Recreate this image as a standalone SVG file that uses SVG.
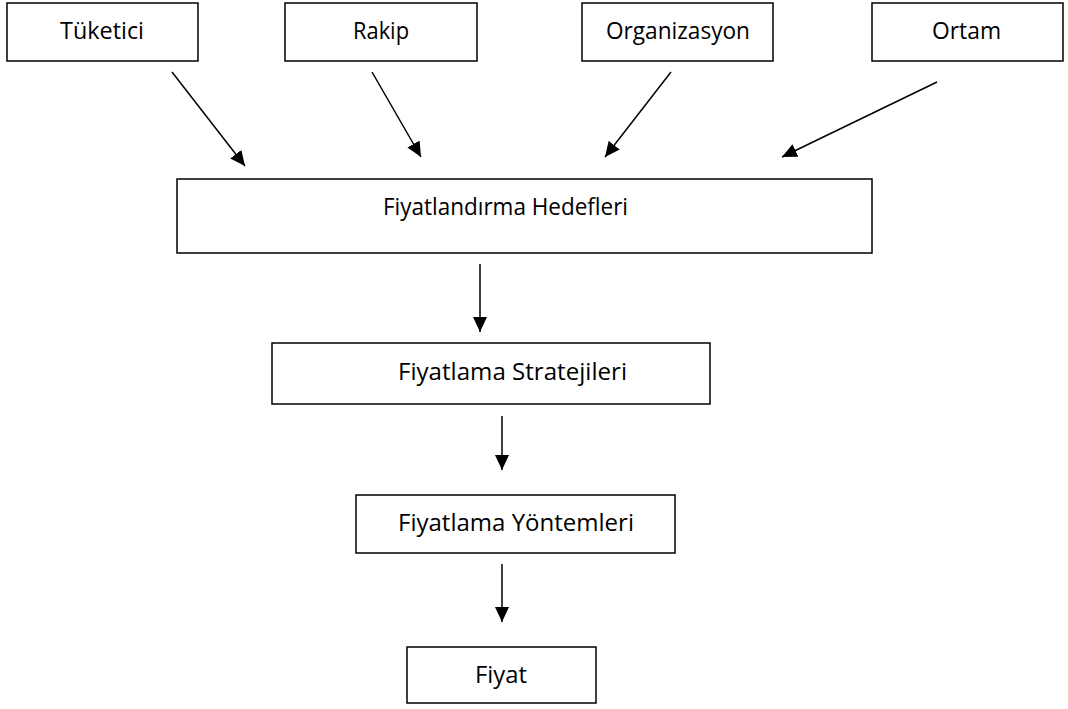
<svg xmlns="http://www.w3.org/2000/svg" width="1068" height="709" viewBox="0 0 1068 709">
<style>
.box{fill:#fff;stroke:#000;stroke-width:1.5}
.lbl{font-family:"Open Sans","Liberation Sans",sans-serif;font-size:23px;fill:#000}
.c{stroke:#000;stroke-width:1.5;fill:none;marker-end:url(#ah)}
</style>
<defs>
<marker id="ah" markerUnits="userSpaceOnUse" markerWidth="16" markerHeight="14" refX="15" refY="7" orient="auto" viewBox="0 0 16 14">
<path d="M0,0 L15,7 L0,14 Z" fill="#000"/>
</marker>
</defs>
<rect width="1068" height="709" fill="#fff"/>
<g id="tuketici"><rect class="box" x="7" y="3" width="191" height="58"/><text class="lbl" x="60" y="39" textLength="84" lengthAdjust="spacingAndGlyphs">Tüketici</text></g>
<g id="rakip"><rect class="box" x="285" y="3" width="192" height="58"/><text class="lbl" x="353" y="39" textLength="56" lengthAdjust="spacingAndGlyphs">Rakip</text></g>
<g id="organizasyon"><rect class="box" x="582" y="3" width="191" height="58"/><text class="lbl" x="606" y="39" textLength="144" lengthAdjust="spacingAndGlyphs">Organizasyon</text></g>
<g id="ortam"><rect class="box" x="872" y="3" width="191" height="58"/><text class="lbl" x="932" y="39" textLength="69" lengthAdjust="spacingAndGlyphs">Ortam</text></g>
<g id="hedefler"><rect class="box" x="177" y="179" width="695" height="74"/><text class="lbl" x="383" y="215" textLength="245" lengthAdjust="spacingAndGlyphs">Fiyatlandırma Hedefleri</text></g>
<g id="stratejiler"><rect class="box" x="272" y="343" width="438" height="61"/><text class="lbl" x="398" y="380" textLength="229" lengthAdjust="spacingAndGlyphs">Fiyatlama Stratejileri</text></g>
<g id="yontemler"><rect class="box" x="356" y="495" width="319" height="58"/><text class="lbl" x="398" y="531" textLength="236" lengthAdjust="spacingAndGlyphs">Fiyatlama Yöntemleri</text></g>
<g id="fiyat"><rect class="box" x="407" y="647" width="189" height="56"/><text class="lbl" x="475" y="683" textLength="52" lengthAdjust="spacingAndGlyphs">Fiyat</text></g>
<g id="connectors">
<line class="c" x1="172" y1="72" x2="245" y2="166"/>
<line class="c" x1="372" y1="72" x2="421" y2="157"/>
<line class="c" x1="671" y1="72" x2="605" y2="157"/>
<line class="c" x1="937" y1="82" x2="782" y2="157"/>
<line class="c" x1="480" y1="264" x2="480" y2="332"/>
<line class="c" x1="502" y1="416" x2="502" y2="470"/>
<line class="c" x1="502" y1="564" x2="502" y2="622"/>
</g>
</svg>
